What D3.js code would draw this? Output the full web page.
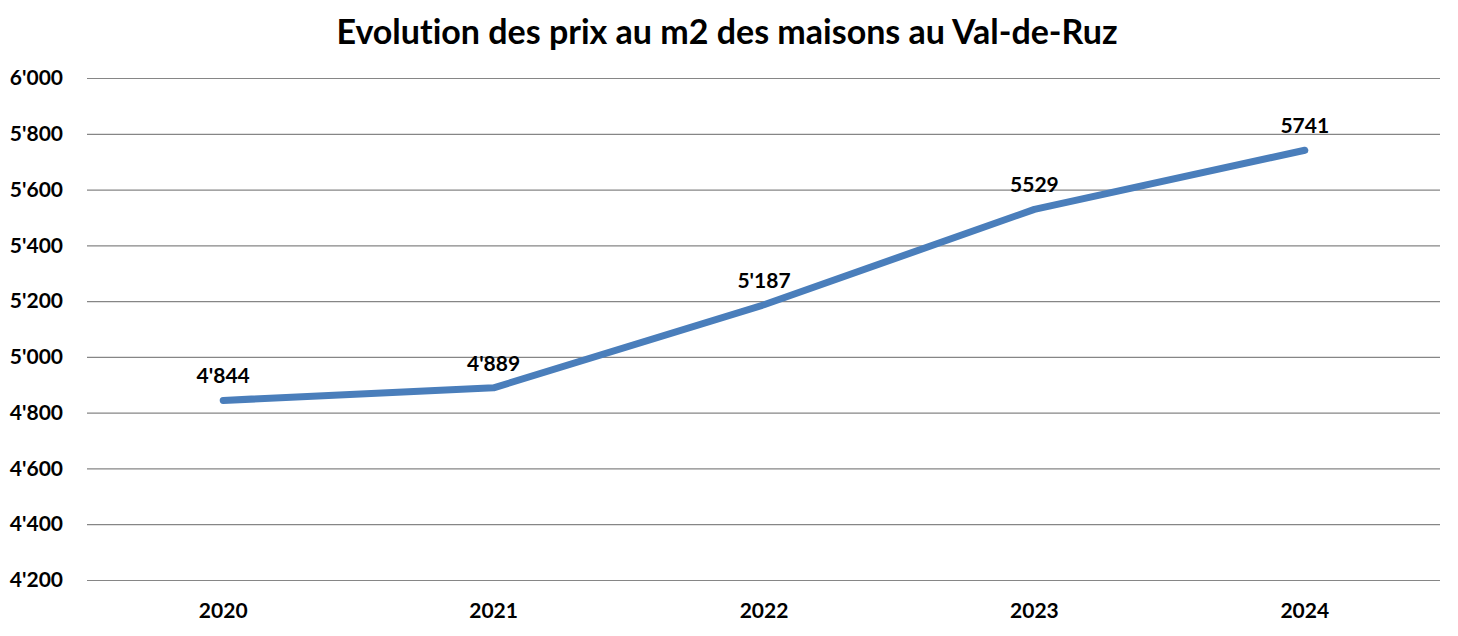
<!DOCTYPE html>
<html><head><meta charset="utf-8">
<script src="https://cdn.jsdelivr.net/npm/d3@7"></script>
<style>body{margin:0;background:#fff;} svg{display:block;} text{font-variant-ligatures:none;font-feature-settings:"liga" 0;}</style>
</head><body>
<script>
const categories = ["2020","2021","2022","2023","2024"];
const values = [4844, 4889, 5187, 5529, 5741];
const valueLabels = ["4'844","4'889","5'187","5529","5741"];
const yTicks = [4200,4400,4600,4800,5000,5200,5400,5600,5800,6000];
const yTickLabels = ["4'200","4'400","4'600","4'800","5'000","5'200","5'400","5'600","5'800","6'000"];
const title = "Evolution des prix au m2 des maisons au Val-de-Ruz";

const W = 1458, H = 636;
const font = "Lato, 'Open Sans', sans-serif";
const svg = d3.select("body").append("svg").attr("width", W).attr("height", H);

const x = d3.scaleBand().domain(categories).range([88, 1440]);
const y = d3.scaleLinear().domain([4200, 6000]).range([580, 78]);

svg.append("text").attr("x", 727).attr("y", 44).attr("text-anchor","middle")
  .attr("font-family", font).attr("font-weight","bold").attr("font-size", 34)
  .attr("fill","#000").text(title);

const yAxis = d3.axisLeft(y).tickValues(yTicks)
  .tickFormat((d,i) => yTickLabels[i]).tickSize(-(1440-87)).tickPadding(24);
const gy = svg.append("g").attr("transform","translate(87,0)").call(yAxis);
gy.select(".domain").remove();
gy.selectAll(".tick line").attr("stroke","#868686").attr("stroke-width",1.2);
gy.selectAll(".tick text").attr("font-family", font).attr("font-weight","bold")
  .attr("font-size", 21).attr("fill","#000");

const xAxis = d3.axisBottom(x).tickSize(0).tickPadding(23);
const gx = svg.append("g").attr("transform","translate(0,580)").call(xAxis);
gx.select(".domain").remove();
gx.selectAll(".tick text").attr("font-family", font).attr("font-weight","bold")
  .attr("font-size", 21).attr("fill","#000");

const cx = d => x(d) + x.bandwidth()/2;
const line = d3.line().x((d,i) => cx(categories[i])).y(d => y(d));
svg.append("path").datum(values).attr("d", line).attr("fill","none")
  .attr("stroke","#4A7EBB").attr("stroke-width",7)
  .attr("stroke-linecap","round").attr("stroke-linejoin","round");

svg.selectAll(".vl").data(values).join("text").attr("class","vl")
  .attr("x",(d,i)=>cx(categories[i])).attr("y", d => y(d) - 17)
  .attr("text-anchor","middle").attr("font-family", font).attr("font-weight","bold")
  .attr("font-size", 21).attr("fill","#000").text((d,i)=>valueLabels[i]);
</script>
</body></html>
